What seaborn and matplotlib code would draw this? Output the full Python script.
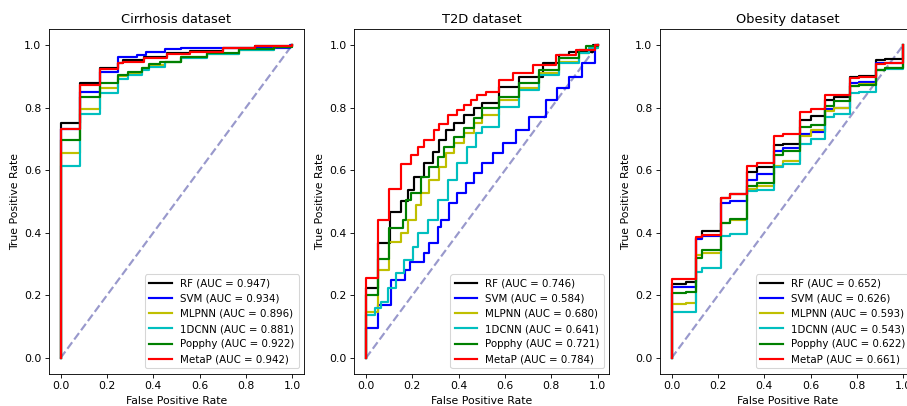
import matplotlib
matplotlib.use("Agg")
import matplotlib.pyplot as plt
import seaborn as sns

# --- models / legend ---
models = ["RF", "SVM", "MLPNN", "1DCNN", "Popphy", "MetaP"]
colors = ["k", "b", "y", "c", "g", "r"]

datasets = ["Cirrhosis dataset", "T2D dataset", "Obesity dataset"]
auc_cirrhosis = [0.947, 0.934, 0.896, 0.881, 0.922, 0.942]
auc_t2d = [0.746, 0.584, 0.680, 0.641, 0.721, 0.784]
auc_obesity = [0.652, 0.626, 0.593, 0.543, 0.622, 0.661]

# --- Cirrhosis ROC points (fpr, tpr) ---
fpr_cir_rf = [0, 0, 0.083, 0.17, 0.25, 0.27, 0.36, 0.46, 0.56, 0.70, 0.84, 1.0]
tpr_cir_rf = [0, 0.75, 0.878, 0.925, 0.941, 0.952, 0.963, 0.973, 0.982, 0.990, 0.997, 1.0]
fpr_cir_svm = [0, 0, 0.083, 0.17, 0.25, 0.33, 0.37, 0.45, 0.52, 0.99, 1.0]
tpr_cir_svm = [0, 0.73, 0.851, 0.915, 0.963, 0.967, 0.978, 0.986, 0.990, 1.0, 1.0]
fpr_cir_mlp = [0, 0, 0.083, 0.17, 0.25, 0.29, 0.35, 0.38, 0.45, 0.52, 0.63, 0.77, 0.92, 1.0]
tpr_cir_mlp = [0, 0.654, 0.795, 0.862, 0.90, 0.912, 0.925, 0.935, 0.946, 0.960, 0.970, 0.984, 0.994, 1.0]
fpr_cir_cnn = [0, 0, 0.083, 0.17, 0.25, 0.29, 0.35, 0.38, 0.45, 0.52, 0.63, 0.77, 0.92, 1.0]
tpr_cir_cnn = [0, 0.613, 0.778, 0.848, 0.89, 0.905, 0.92, 0.93, 0.944, 0.958, 0.970, 0.984, 0.994, 1.0]
fpr_cir_pop = [0, 0, 0.083, 0.17, 0.25, 0.29, 0.35, 0.38, 0.43, 0.52, 0.63, 0.77, 0.92, 1.0]
tpr_cir_pop = [0, 0.696, 0.835, 0.88, 0.904, 0.915, 0.925, 0.939, 0.946, 0.963, 0.973, 0.986, 0.994, 1.0]
fpr_cir_meta = [0, 0, 0.083, 0.17, 0.25, 0.27, 0.36, 0.46, 0.56, 0.70, 0.84, 1.0]
tpr_cir_meta = [0, 0.731, 0.872, 0.922, 0.941, 0.944, 0.958, 0.970, 0.978, 0.990, 0.997, 1.0]

# --- T2D ROC points ---
fpr_t2d_rf = [0, 0, 0.052, 0.105, 0.15, 0.18, 0.209, 0.252, 0.288, 0.317, 0.345, 0.381,
              0.424, 0.467, 0.503, 0.576, 0.662, 0.762, 0.834, 0.877, 0.98, 1.0]
tpr_t2d_rf = [0, 0.225, 0.366, 0.467, 0.50, 0.537, 0.579, 0.622, 0.659, 0.696, 0.728, 0.75,
              0.776, 0.798, 0.814, 0.867, 0.899, 0.941, 0.968, 0.979, 1.0, 1.0]
fpr_t2d_svm = [0, 0, 0.054, 0.11, 0.168, 0.19, 0.252, 0.274, 0.309, 0.324, 0.36, 0.395,
               0.431, 0.467, 0.503, 0.547, 0.59, 0.648, 0.705, 0.777, 0.826, 0.877, 0.934,
               0.99, 1.0]
tpr_t2d_svm = [0, 0.097, 0.17, 0.25, 0.28, 0.308, 0.334, 0.366, 0.419, 0.441, 0.494, 0.526,
               0.558, 0.59, 0.622, 0.654, 0.686, 0.728, 0.771, 0.824, 0.862, 0.899, 0.941,
               1.0, 1.0]
fpr_t2d_mlp = [0, 0, 0.052, 0.10, 0.152, 0.182, 0.216, 0.238, 0.274, 0.317, 0.345, 0.381,
               0.424, 0.467, 0.503, 0.576, 0.662, 0.748, 0.834, 0.92, 0.963, 1.0]
tpr_t2d_mlp = [0, 0.148, 0.281, 0.372, 0.40, 0.44, 0.489, 0.526, 0.569, 0.611, 0.654, 0.686,
               0.718, 0.75, 0.776, 0.824, 0.862, 0.91, 0.947, 0.973, 0.99, 1.0]
fpr_t2d_cnn = [0, 0, 0.037, 0.066, 0.095, 0.13, 0.166, 0.202, 0.223, 0.266, 0.309, 0.352,
               0.395, 0.438, 0.474, 0.503, 0.576, 0.662, 0.748, 0.834, 0.92, 0.963, 1.0]
tpr_t2d_cnn = [0, 0.137, 0.16, 0.18, 0.223, 0.271, 0.313, 0.356, 0.398, 0.441, 0.505, 0.569,
               0.622, 0.675, 0.718, 0.739, 0.803, 0.856, 0.904, 0.941, 0.973, 0.99, 1.0]
fpr_t2d_pop = [0, 0, 0.052, 0.10, 0.162, 0.173, 0.195, 0.238, 0.274, 0.309, 0.338, 0.381,
               0.424, 0.467, 0.503, 0.576, 0.662, 0.748, 0.834, 0.92, 0.948, 1.0]
tpr_t2d_pop = [0, 0.201, 0.315, 0.414, 0.441, 0.505, 0.526, 0.579, 0.611, 0.643, 0.675, 0.707,
               0.734, 0.766, 0.798, 0.835, 0.878, 0.92, 0.957, 0.984, 0.997, 1.0]
fpr_t2d_meta = [0, 0, 0.054, 0.10, 0.152, 0.195, 0.223, 0.252, 0.295, 0.317, 0.352, 0.395,
                0.424, 0.453, 0.481, 0.52, 0.576, 0.633, 0.719, 0.82, 0.905, 0.99, 1.0]
tpr_t2d_meta = [0, 0.257, 0.44, 0.54, 0.62, 0.649, 0.675, 0.696, 0.728, 0.749, 0.776, 0.792,
                0.808, 0.824, 0.84, 0.851, 0.888, 0.91, 0.936, 0.968, 0.984, 1.0, 1.0]

# --- Obesity ROC points (shared fpr grid) ---
fpr_obesity = [0, 0, 0.06, 0.105, 0.13, 0.215, 0.25, 0.325, 0.37, 0.44, 0.48, 0.552, 0.6,
               0.662, 0.7, 0.772, 0.81, 0.882, 0.92, 1.0]
tpr_obe_rf = [0, 0.235, 0.243, 0.384, 0.405, 0.51, 0.523, 0.595, 0.61, 0.679, 0.685, 0.76,
              0.773, 0.825, 0.833, 0.899, 0.902, 0.952, 0.954, 1.0]
tpr_obe_svm = [0, 0.226, 0.228, 0.38, 0.39, 0.495, 0.503, 0.568, 0.588, 0.66, 0.67, 0.715,
               0.723, 0.795, 0.80, 0.88, 0.883, 0.941, 0.943, 1.0]
tpr_obe_mlp = [0, 0.173, 0.175, 0.33, 0.335, 0.43, 0.44, 0.54, 0.55, 0.614, 0.63, 0.709,
               0.729, 0.79, 0.798, 0.87, 0.874, 0.92, 0.925, 1.0]
tpr_obe_cnn = [0, 0.146, 0.148, 0.276, 0.287, 0.39, 0.395, 0.535, 0.537, 0.611, 0.62, 0.685,
               0.70, 0.77, 0.778, 0.848, 0.851, 0.92, 0.922, 1.0]
tpr_obe_pop = [0, 0.209, 0.211, 0.32, 0.345, 0.43, 0.443, 0.548, 0.56, 0.65, 0.66, 0.737,
               0.745, 0.806, 0.82, 0.87, 0.872, 0.921, 0.925, 1.0]
tpr_obe_meta = [0, 0.251, 0.251, 0.385, 0.392, 0.51, 0.523, 0.614, 0.624, 0.709, 0.714, 0.787,
                0.794, 0.84, 0.84, 0.896, 0.899, 0.938, 0.941, 1.0]

curves = [
    [(fpr_cir_rf, tpr_cir_rf), (fpr_cir_svm, tpr_cir_svm), (fpr_cir_mlp, tpr_cir_mlp),
     (fpr_cir_cnn, tpr_cir_cnn), (fpr_cir_pop, tpr_cir_pop), (fpr_cir_meta, tpr_cir_meta)],
    [(fpr_t2d_rf, tpr_t2d_rf), (fpr_t2d_svm, tpr_t2d_svm), (fpr_t2d_mlp, tpr_t2d_mlp),
     (fpr_t2d_cnn, tpr_t2d_cnn), (fpr_t2d_pop, tpr_t2d_pop), (fpr_t2d_meta, tpr_t2d_meta)],
    [(fpr_obesity, tpr_obe_rf), (fpr_obesity, tpr_obe_svm), (fpr_obesity, tpr_obe_mlp),
     (fpr_obesity, tpr_obe_cnn), (fpr_obesity, tpr_obe_pop), (fpr_obesity, tpr_obe_meta)],
]
aucs = [auc_cirrhosis, auc_t2d, auc_obesity]

# figure drawn at 78 dpi so default font sizes match the reference scale
DPI = 78
fig = plt.figure(figsize=(907 / DPI, 406 / DPI), dpi=DPI)
lefts = [0.054, 0.3907, 0.7277]

for i, title in enumerate(datasets):
    ax = fig.add_axes([lefts[i], 0.0798, 0.281, 0.848])
    ax.plot([0, 1], [0, 1], color="navy", lw=2, linestyle="--", alpha=0.4)
    for (fpr, tpr), name, col, auc in zip(curves[i], models, colors, aucs[i]):
        sns.lineplot(x=fpr, y=tpr, color=col, lw=2, drawstyle="steps-post",
                     sort=False, estimator=None, ax=ax,
                     label=f"{name} (AUC = {auc:.3f})")
    ax.set_xlim(-0.05, 1.05)
    ax.set_ylim(-0.05, 1.05)
    ax.set_xlabel("False Positive Rate")
    ax.set_ylabel("True Positive Rate")
    ax.set_title(title)
    ax.legend(loc="lower right", fontsize=9.5, handlelength=2.2)

fig.savefig("out.png", dpi=DPI)
plt.close(fig)
